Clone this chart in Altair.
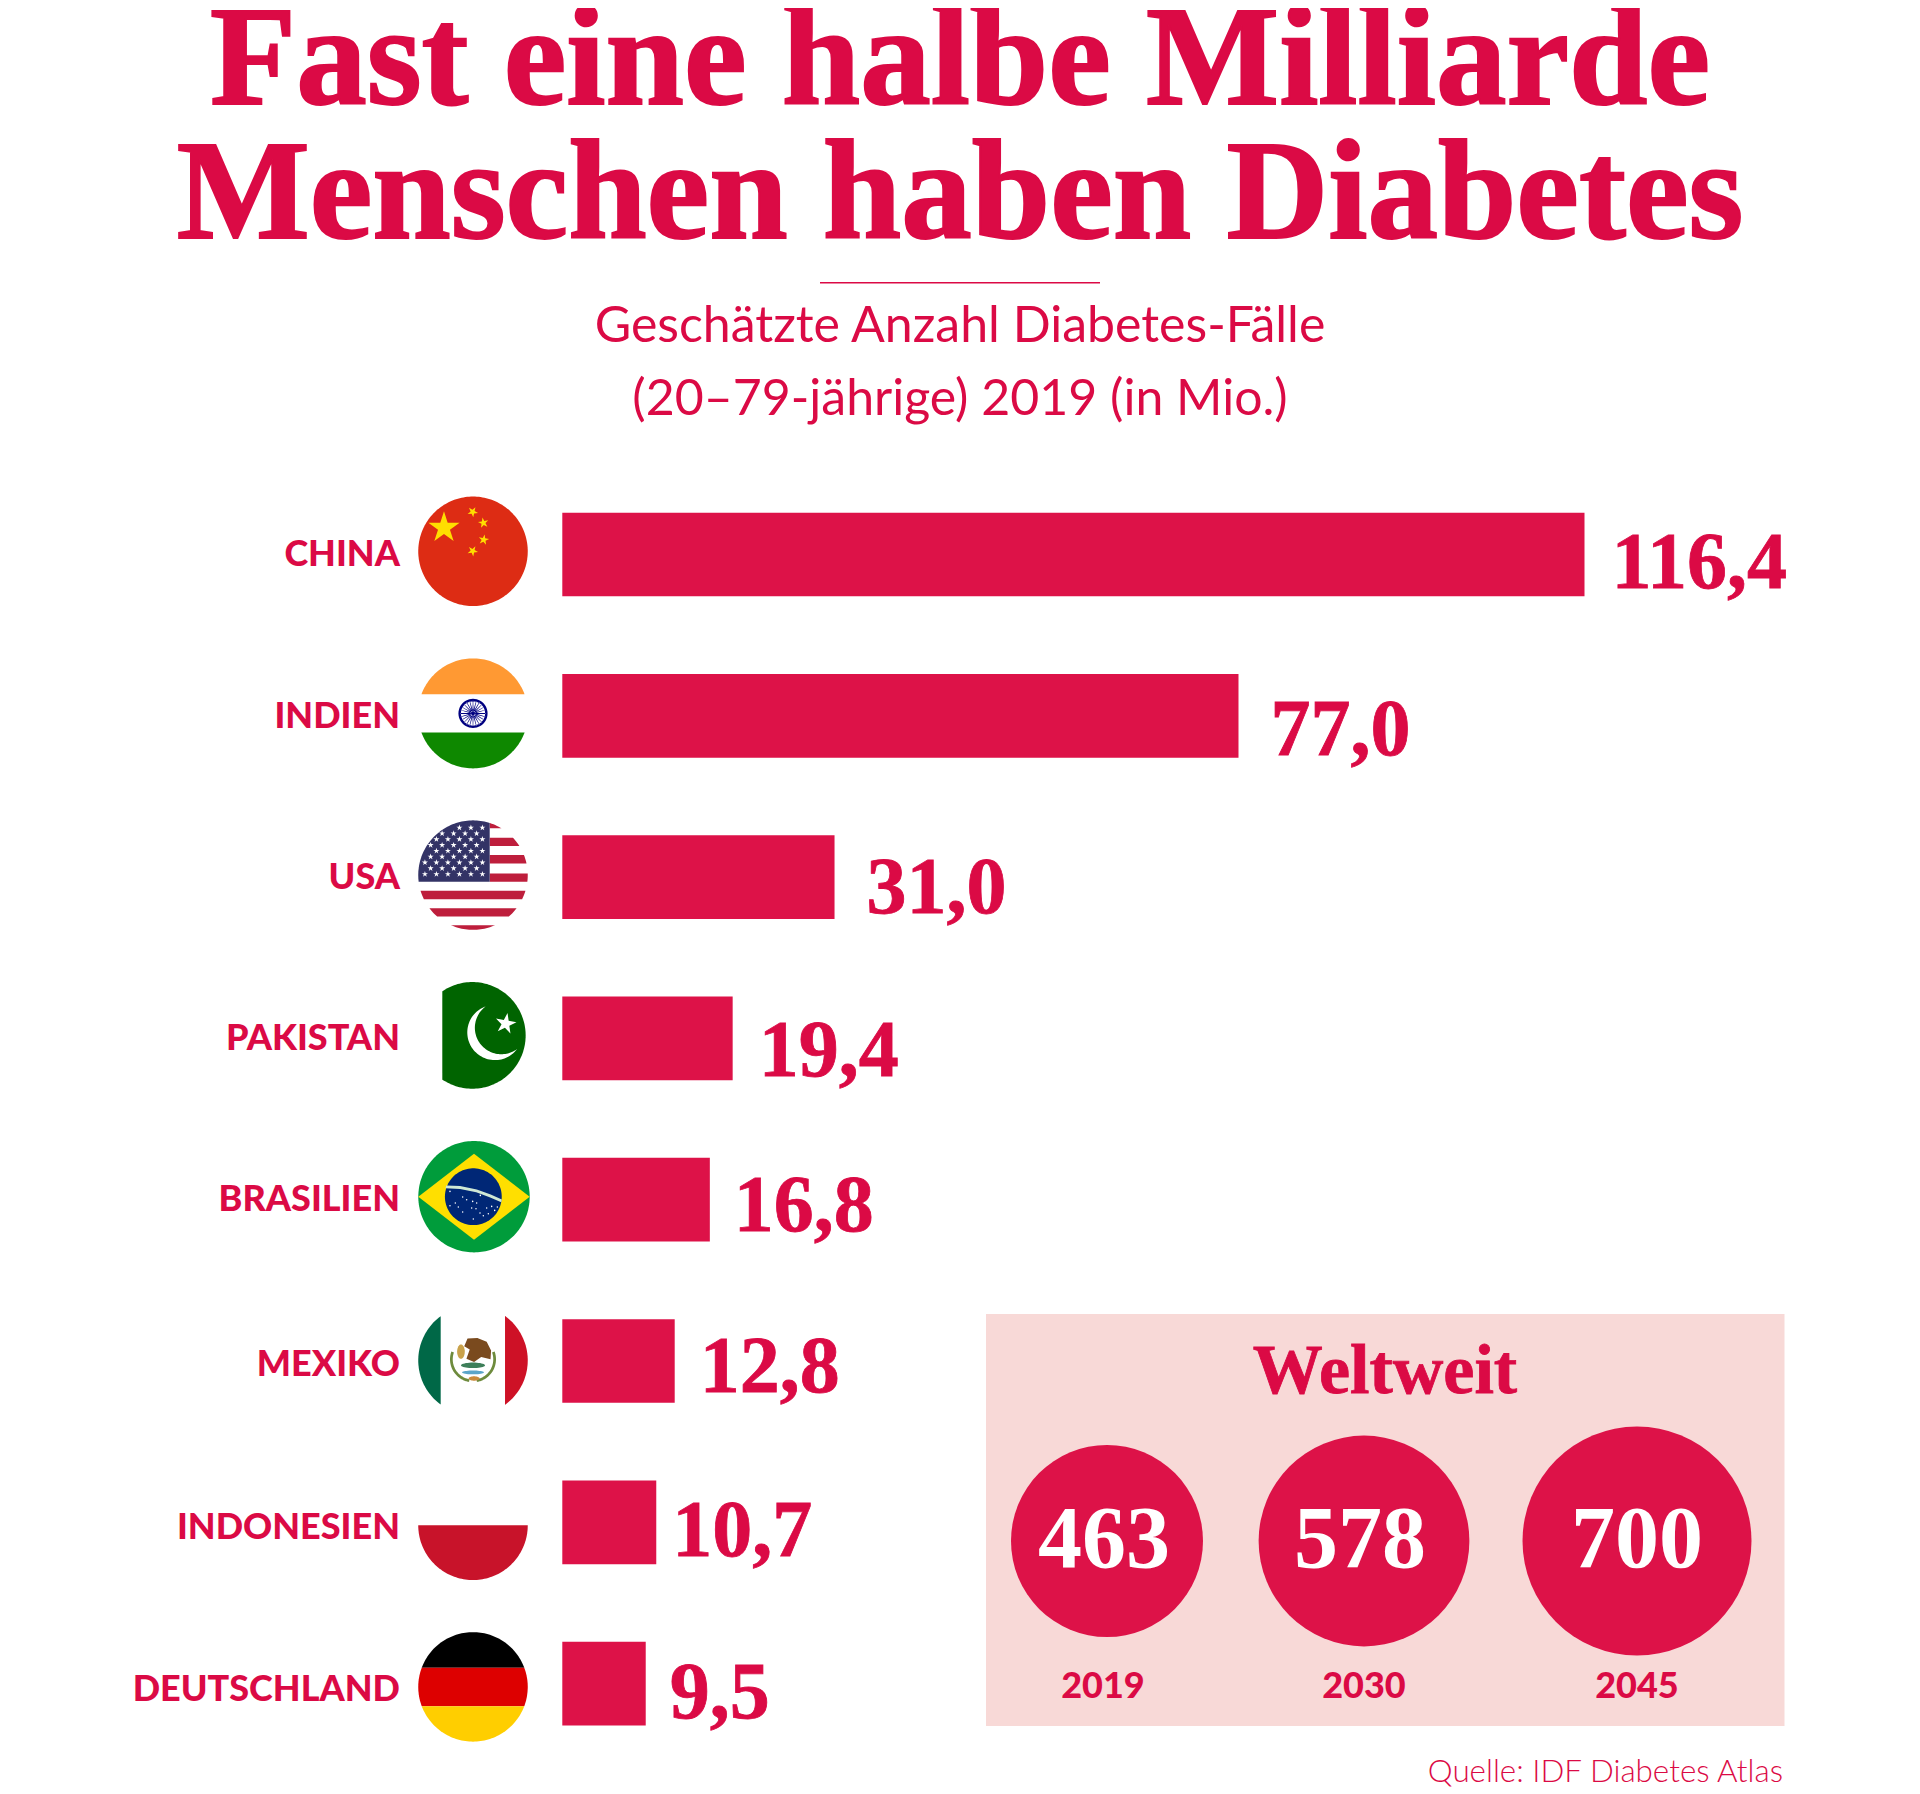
import math
import altair as alt
import pandas as pd

# ---- data -------------------------------------------------------------
COUNTRIES = ["CHINA", "INDIEN", "USA", "PAKISTAN", "BRASILIEN", "MEXIKO", "INDONESIEN", "DEUTSCHLAND"]
CASES = [116.4, 77.0, 31.0, 19.4, 16.8, 12.8, 10.7, 9.5]
YEARS = ["2019", "2030", "2045"]
WORLD = [463, 578, 700]
TITLE_LINES = ["Fast eine halbe Milliarde", "Menschen haben Diabetes"]
SUB_LINES = ["Geschätzte Anzahl Diabetes-Fälle", "(20–79-jährige) 2019 (in Mio.)"]
PANEL_TITLE = "Weltweit"
SOURCE = "Quelle: IDF Diabetes Atlas"

# ---- style ------------------------------------------------------------
TXT = "#DB0A45"
BAR = "#DD1248"
PANEL = "#F8D9D7"
SERIF = "Liberation Serif"
SANS = "Lato"
OX, OY = 8, 8  # page margin


def px(x):
    return x - OX


def py(y):
    return y - OY


y_scale = alt.Scale(domain=COUNTRIES, range=[465.85, 1756.25], paddingInner=0.481, paddingOuter=0.2405)
x_scale = alt.Scale(domain=[0, 116.4], range=[554.3, 1576.5], nice=False, zero=True)
size_scale = alt.Scale(domain=[463, 700], range=[192 ** 2, 229 ** 2], zero=False, nice=False)
Y = alt.Y("country:N", scale=y_scale, axis=None, sort=None)


# ---- flag geometry helpers (unit disk, -1..1) ----------------------------
def disk(cx=0.0, cy=0.0, r=1.0, n=180):
    return [(cx + r * math.cos(2 * math.pi * i / n), cy + r * math.sin(2 * math.pi * i / n)) for i in range(n)]


def clip_half(poly, inside, cross):
    out = []
    for i, p in enumerate(poly):
        q = poly[(i + 1) % len(poly)]
        if inside(p):
            out.append(p)
            if not inside(q):
                out.append(cross(p, q))
        elif inside(q):
            out.append(cross(p, q))
    return out


def disk_rect(x0=-1.01, x1=1.01, y0=-1.01, y1=1.01):
    poly = disk()
    def cx(v):
        return lambda p, q: (v, p[1] + (q[1] - p[1]) * (v - p[0]) / (q[0] - p[0]))
    def cy(v):
        return lambda p, q: (p[0] + (q[0] - p[0]) * (v - p[1]) / (q[1] - p[1]), v)
    poly = clip_half(poly, lambda p: p[0] >= x0, cx(x0))
    poly = clip_half(poly, lambda p: p[0] <= x1, cx(x1))
    poly = clip_half(poly, lambda p: p[1] >= y0, cy(y0))
    poly = clip_half(poly, lambda p: p[1] <= y1, cy(y1))
    return poly


def P(poly):
    return "M" + "L".join(f"{x:.4f} {y:.4f}" for x, y in poly) + "Z"


def star(cx, cy, r, rot=-90.0, inner=0.382):
    pts = []
    for i in range(10):
        a = math.radians(rot + 36 * i)
        rr = r if i % 2 == 0 else r * inner
        pts.append((cx + rr * math.cos(a), cy + rr * math.sin(a)))
    return pts


def ellipse(cx, cy, rx, ry, n=40):
    return [(cx + rx * math.cos(2 * math.pi * i / n), cy + ry * math.sin(2 * math.pi * i / n)) for i in range(n)]


def arc(cx, cy, r, a0, a1, n=60):
    return [(cx + r * math.cos(math.radians(a0 + (a1 - a0) * i / n)),
             cy + r * math.sin(math.radians(a0 + (a1 - a0) * i / n))) for i in range(n + 1)]


# China
china = [("#DD2C14", P(disk())),
         ("#FFDE00", P(star(-0.53, -0.43, 0.30)) + P(star(-0.006, -0.72, 0.10, -60)) + P(star(0.19, -0.52, 0.10, -100))
          + P(star(0.195, -0.21, 0.10, -80)) + P(star(-0.006, -0.006, 0.10, -60)))]

# India
chakra = P(disk(r=0.265, n=48)) + P(list(reversed(disk(r=0.22, n=48)))) + P(disk(r=0.05, n=16))
for k in range(24):
    a = 2 * math.pi * k / 24
    w = 0.018
    chakra += P([(0.03 * math.cos(a - 0.3), 0.03 * math.sin(a - 0.3)), (0.03 * math.cos(a + 0.3), 0.03 * math.sin(a + 0.3)),
                 (0.23 * math.cos(a + w), 0.23 * math.sin(a + w)), (0.23 * math.cos(a - w), 0.23 * math.sin(a - w))])
india = [("#FF9933", P(disk_rect(y1=-0.35))), ("#0E8800", P(disk_rect(y0=0.345))), ("#000080", chakra)]

# USA
us_red = ""
for i, (t, b) in enumerate([(1021, 1045), (1073, 1098), (1125, 1150), (1180, 1205), (1232, 1257), (1284, 1309), (1335, 1349)]):
    y0, y1 = (t - 1185) / 164, (b - 1185) / 164
    us_red += P(disk_rect(x0=0.305 if i < 4 else -1.01, y0=y0, y1=y1))
us_stars = ""
for row in range(9):
    yy = -0.866 + row * 0.106
    count = 6 if row % 2 == 0 else 5
    x_start = -0.878 if row % 2 == 0 else -0.774
    for c in range(count):
        xx = x_start + c * 0.21
        if xx * xx + yy * yy < 0.95:
            us_stars += P(star(xx, yy, 0.058))
usa = [("#BE1E3C", us_red), ("#333366", P(disk_rect(x1=0.305, y1=0.12))), ("#FFFFFF", us_stars)]

# Pakistan
tip1 = math.degrees(math.atan2(-0.5375 + 0.056, 0.244 - 0.425))
tip2 = math.degrees(math.atan2(0.2625 + 0.056, 0.831 - 0.425))
itip1 = math.degrees(math.atan2(-0.5375 + 0.143, 0.244 - 0.544))
itip2 = math.degrees(math.atan2(0.2625 + 0.143, 0.831 - 0.544))
crescent = arc(0.425, -0.056, 0.519, tip1 % 360, tip2) + arc(0.544, -0.143, 0.496, itip2, itip1 % 360)
pakistan = [("#006400", P(disk_rect(x0=-0.5625))), ("#FFFFFF", P(crescent) + P(star(0.625, -0.219, 0.205, -80)))]

# Brazil
band_top = [(-0.50, -0.20), (-0.25, -0.19), (0.05, -0.13), (0.30, -0.04), (0.50, 0.05)]
band_bot = [(0.49, 0.10), (0.28, 0.01), (0.04, -0.08), (-0.25, -0.14), (-0.51, -0.15)]
br_dots = ""
for zx, zy in [(990, 695), (1028, 712), (1006, 730), (990, 738), (1015, 742), (1028, 757), (1058, 725), (1070, 730),
               (1055, 745), (1068, 747), (1081, 707), (1115, 740), (1132, 742), (1124, 752), (1105, 762), (1090, 768),
               (1080, 760), (1060, 778), (1100, 745), (1040, 720)]:
    br_dots += P(disk((zx - 1062) / 167, (zy - 711) / 167, 0.014, 8))
brazil = [("#009C3B", P(disk())), ("#FFDF00", P([(-1, 0), (0, -0.772), (1, 0), (0, 0.772)])),
          ("#002776", P(disk(-0.012, 0, 0.51, 90))), ("#CFE8D5", P(band_top + band_bot)), ("#FFFFFF", br_dots)]

# Mexico
wreath_l = arc(0, -0.02, 0.42, 100, 200) + arc(0, -0.02, 0.37, 200, 100)
wreath_r = arc(0, -0.02, 0.42, -20, 80) + arc(0, -0.02, 0.37, 80, -20)
eagle = [(-0.10, -0.40), (0.08, -0.41), (0.25, -0.34), (0.33, -0.18), (0.32, -0.02), (0.15, -0.06), (0.02, 0.03),
         (-0.12, -0.03), (-0.06, -0.2), (-0.16, -0.26)]
mexico = [("#006847", P(disk_rect(x1=-0.59))), ("#CE1126", P(disk_rect(x0=0.585))),
          ("#6E8B3D", P(wreath_l) + P(wreath_r)),
          ("#7A4A1E", P(eagle)), ("#C9A24B", P(ellipse(-0.22, -0.16, 0.07, 0.13))),
          ("#3E7F5A", P(ellipse(0.0, 0.09, 0.22, 0.05))), ("#5AA5C9", P(ellipse(0.0, 0.22, 0.2, 0.035))),
          ("#C98A3C", P(ellipse(0.02, 0.33, 0.1, 0.04)))]

# Indonesia, Germany
indonesia = [("#C8132A", P(disk_rect(y0=0.0)))]
germany = [("#000000", P(disk_rect(y1=-0.348))), ("#DD0000", P(disk_rect(y0=-0.348, y1=0.354))),
           ("#FFCE00", P(disk_rect(y0=0.354)))]

# country: (pieces, centre x on page, vertical nudge from bar centre, diameter)
FLAGS = {
    "CHINA": (china, 473, -3.2, 109.5),
    "INDIEN": (india, 473, -2.4, 110),
    "USA": (usa, 473, -2.0, 109.5),
    "PAKISTAN": (pakistan, 472.3, -3.0, 106.7),
    "BRASILIEN": (brazil, 474, -3.0, 111.4),
    "MEXIKO": (mexico, 473, -0.6, 109.5),
    "INDONESIEN": (indonesia, 473, 3.0, 109.5),
    "DEUTSCHLAND": (germany, 473, 3.3, 109.5),
}

# nudges: country label baseline, value label gap, value label baseline (px from bar centre)
NUDGE = {
    "CHINA": (11, 27, 33.5),
    "INDIEN": (12, 32, 39),
    "USA": (12, 32, 36),
    "PAKISTAN": (12, 26, 38),
    "BRASILIEN": (11, 24, 31),
    "MEXIKO": (15, 25, 31),
    "INDONESIEN": (17, 16, 34),
    "DEUTSCHLAND": (17.7, 24, 34),
}

rows = pd.DataFrame({"country": COUNTRIES, "value": CASES})
rows["label"] = [f"{v:.1f}".replace(".", ",") for v in CASES]
layers = []


def text_layer(text, x, y, **kw):
    return alt.Chart(pd.DataFrame({"t": [text]})).mark_text(baseline="alphabetic", **kw).encode(
        text="t:N", x=alt.value(px(x)), y=alt.value(py(y)))


# title block
for line, base in zip(TITLE_LINES, [104, 238]):
    layers.append(text_layer(line, 960, base, font=SERIF, fontWeight="bold", fontSize=141, color=TXT, align="center",
                             stroke=TXT, strokeWidth=2))
layers.append(alt.Chart(pd.DataFrame({"a": [0]})).mark_rule(color=TXT, strokeWidth=1.5).encode(
    x=alt.value(px(820)), x2=alt.value(px(1100)), y=alt.value(py(282.7))))
layers.append(text_layer(SUB_LINES[0], 960, 342, font=SANS, fontSize=50, color=TXT, align="center"))
layers.append(text_layer(SUB_LINES[1], 960, 415, font=SANS, fontSize=50, color=TXT, align="center"))

# bars
layers.append(alt.Chart(rows).mark_bar(color=BAR).encode(
    x=alt.X("value:Q", scale=x_scale, axis=None), y=Y))

# row labels and flags
for name in COUNTRIES:
    row = rows[rows.country == name]
    lab_dy, gap, val_dy = NUDGE[name]
    layers.append(alt.Chart(row).mark_text(font=SANS, fontWeight=900, fontSize=36, color=TXT, align="right",
                                           baseline="alphabetic", dy=lab_dy).encode(
        x=alt.value(px(400)), y=Y, text="country:N"))
    layers.append(alt.Chart(row).mark_text(font=SERIF, fontWeight="bold", fontSize=80, color=TXT, align="left",
                                           baseline="alphabetic", dx=gap, dy=val_dy, stroke=TXT, strokeWidth=0.8).encode(
        x=alt.X("value:Q", scale=x_scale, axis=None), y=Y, text="label:N"))
    pieces, fx, fdy, dia = FLAGS[name]
    for col, path in pieces:
        layers.append(alt.Chart(row).mark_point(shape=path, size=dia ** 2, filled=True, color=col, opacity=1,
                                                strokeWidth=0, yOffset=fdy).encode(
            x=alt.value(px(fx)), y=Y))

# Weltweit panel
layers.append(alt.Chart(pd.DataFrame({"a": [0]})).mark_rect(color=PANEL).encode(
    x=alt.value(px(986)), x2=alt.value(px(1784.5)), y=alt.value(py(1314)), y2=alt.value(py(1726))))
layers.append(text_layer(PANEL_TITLE, 1385, 1392.7, font=SERIF, fontWeight="bold", fontSize=70, color=TXT, align="center",
                         stroke=TXT, strokeWidth=0.8))
CIRCLE_X = [1107, 1364, 1637]
NUMBER_X = [1104, 1360, 1637]
YEAR_X = [1103, 1364, 1637]
for yr, val, cx_, nx, yx in zip(YEARS, WORLD, CIRCLE_X, NUMBER_X, YEAR_X):
    d = pd.DataFrame({"year": [yr], "world": [val]})
    layers.append(alt.Chart(d).mark_point(shape="circle", filled=True, color=BAR, opacity=1, strokeWidth=0).encode(
        x=alt.value(px(cx_)), y=alt.value(py(1541)),
        size=alt.Size("world:Q", scale=size_scale, legend=None)))
    layers.append(alt.Chart(d).mark_text(font=SERIF, fontWeight="bold", fontSize=88, color="#FFFFFF", align="center",
                                         baseline="alphabetic").encode(
        x=alt.value(px(nx)), y=alt.value(py(1567)), text="world:Q"))
    layers.append(alt.Chart(d).mark_text(font=SANS, fontWeight=900, fontSize=36, color=TXT, align="center",
                                         baseline="alphabetic").encode(
        x=alt.value(px(yx)), y=alt.value(py(1698)), text="year:N"))

# source
layers.append(text_layer(SOURCE, 1783, 1782, font="Lato", fontWeight=300, fontSize=31.4, color=TXT, align="right"))

chart = alt.layer(*layers).properties(width=1904, height=1786, padding=0, background="#FFFFFF",
                                      autosize=alt.AutoSizeParams(type="none")).configure_view(stroke=None)
chart.save("out.html", embed_options={"renderer": "svg", "actions": False})
